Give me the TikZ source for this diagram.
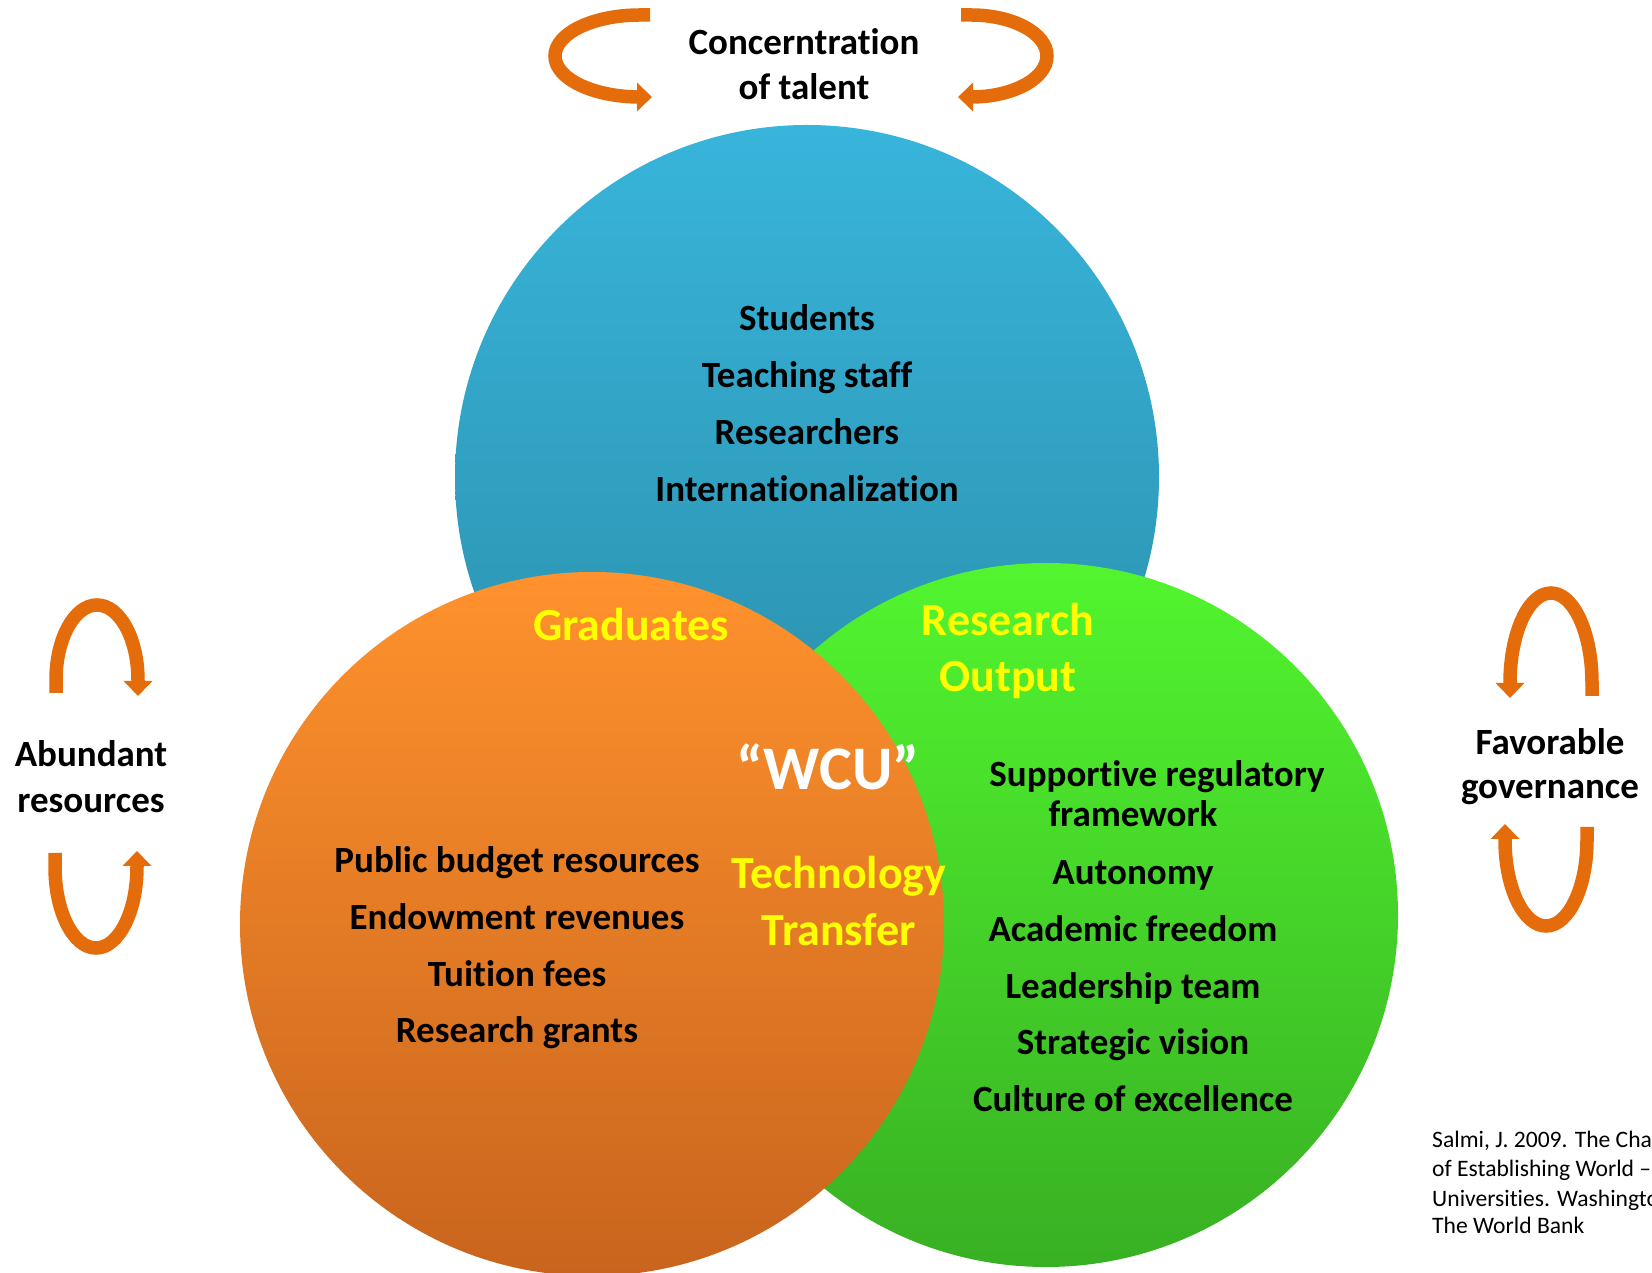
\documentclass[tikz,border=0pt]{standalone}
\usepackage{fontspec}
\setmainfont[Ligatures={NoCommon}]{Carlito}
\usetikzlibrary{arrows.meta}
\definecolor{blueTop}{HTML}{38B5DB}
\definecolor{blueBot}{HTML}{2A8CA8}
\definecolor{orTop}{HTML}{FF922D}
\definecolor{orBot}{HTML}{C8641D}
\definecolor{grTop}{HTML}{52F52F}
\definecolor{grBot}{HTML}{38B023}
\definecolor{arrOrange}{HTML}{E46C0A}
\definecolor{yellowT}{HTML}{FFFF00}
\begin{document}
\begin{tikzpicture}[x=1pt,y=1pt,
  venn/.style={circle, minimum size=704pt, inner sep=0pt, draw=none},
  body/.style={font=\fontsize{37}{44}\selectfont\bfseries, anchor=base, inner sep=0pt},
  hl/.style={font=\fontsize{46}{55}\selectfont\bfseries, text=yellowT, anchor=base, inner sep=0pt},
  cite/.style={font=\fontsize{23.6}{28}\selectfont, anchor=base west, inner sep=0pt},
  cyc/.style={draw=arrOrange, line width=13.5pt, -{Triangle[width=28pt,length=15pt]}}]
\useasboundingbox (0,0) rectangle (1652,1272);
\fill[white] (0,0) rectangle (1652,1272);

% circles
\node[venn, top color=blueTop, bottom color=blueBot] (talent) at (807,795) {};
\node[venn, top color=grTop, bottom color=grBot] (gov) at (1046,357) {};
\node[venn, top color=orTop, bottom color=orBot] (res) at (592,348) {};

% top label and arrows
\node[body] (conc1) at (804,1217) {Concerntration};
\node[body] (conc2) at (804,1172) {of talent};
\draw[cyc] (650,1257) -- (640,1257) arc[start angle=90, end angle=270, x radius=85, y radius=41] -- (652,1175);
\draw[cyc] (961,1257) -- (971,1257) arc[start angle=90, end angle=-90, x radius=76, y radius=41] -- (958,1175);

% left label and arrows
\node[body] (ab1) at (91,505) {Abundant};
\node[body] (ab2) at (91,459) {resources};
\draw[cyc] (56,579) -- (56,592) arc[start angle=180, end angle=0, x radius=41, y radius=75] -- (138,576);
\draw[cyc] (55,419) -- (55,405) arc[start angle=180, end angle=360, x radius=41, y radius=81] -- (137,421);

% right label and arrows
\node[body] (fav1) at (1550,517) {Favorable};
\node[body] (fav2) at (1550,473) {governance};
\draw[cyc] (1592,576) -- (1592,589) arc[start angle=0, end angle=180, x radius=41, y radius=90] -- (1510,574);
\draw[cyc] (1587,445) -- (1587,432) arc[start angle=0, end angle=-180, x radius=41, y radius=86] -- (1505,448);

% blue circle texts
\node[body] (t1) at (807,941) {Students};
\node[body] (t2) at (807,884) {Teaching staff};
\node[body] (t3) at (807,827) {Researchers};
\node[body] (t4) at (807,770) {Internationalization};

% orange circle texts
\node[body] (r1) at (517,399) {Public budget resources};
\node[body] (r2) at (517,342) {Endowment revenues};
\node[body] (r3) at (517,285) {Tuition fees};
\node[body] (r4) at (517,229) {Research grants};

% green circle texts
\node[body] (g1) at (1157,485) {Supportive regulatory};
\node[body] (g2) at (1133,445) {framework};
\node[body] (g3) at (1133,387) {Autonomy};
\node[body] (g4) at (1133,330) {Academic freedom};
\node[body] (g5) at (1133,273) {Leadership team};
\node[body] (g6) at (1133,217) {Strategic vision};
\node[body] (g7) at (1133,160) {Culture of excellence};

% highlights
\node[hl] (grad) at (631,631) {Graduates};
\node[hl] (ro1) at (1008,636) {Research};
\node[hl] (ro2) at (1008,580) {Output};
\node[hl] (tt1) at (839,383) {Technology};
\node[hl] (tt2) at (839,326) {Transfer};
\node[font=\fontsize{62}{74}\selectfont\bfseries, text=white, anchor=base, inner sep=0pt] (wcu) at (828,482) {“WCU”};

% citation
\node[cite] (c1) at (1432,124) {Salmi, J. 2009. The Challenge};
\node[cite] (c2) at (1432,95) {of Establishing World – Class};
\node[cite] (c3) at (1432,66) {Universities. Washington, DC:};
\node[cite] (c4) at (1432,38) {The World Bank};
\end{tikzpicture}
\end{document}
